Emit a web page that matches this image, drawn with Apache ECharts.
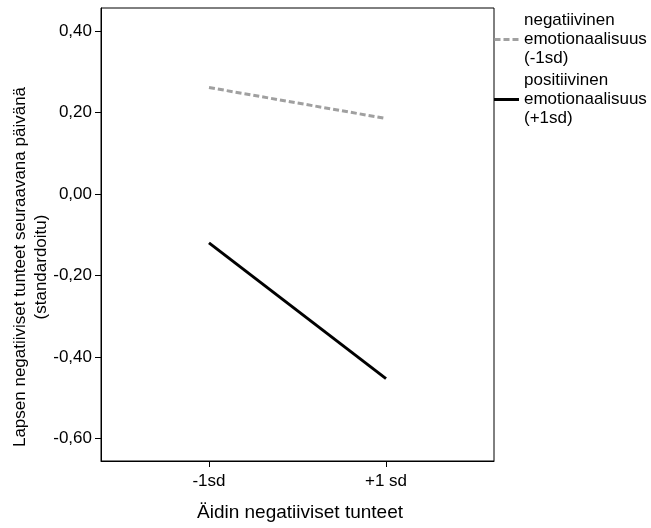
<!DOCTYPE html>
<html>
<head>
<meta charset="utf-8">
<script src="https://cdn.jsdelivr.net/npm/echarts@6/dist/echarts.min.js"></script>
<style>html,body{margin:0;padding:0;background:#fff}#c{width:651px;height:528px}</style>
</head>
<body>
<div id="c"></div>
<script>
const xPositions = [-1, 1];
const xTickLabels = ['-1sd', '+1 sd'];
const yTicks = [-0.6, -0.4, -0.2, 0.0, 0.2, 0.4];
const negName = 'negatiivinen\nemotionaalisuus\n(-1sd)';
const posName = 'positiivinen\nemotionaalisuus\n(+1sd)';
const negValues = [0.261, 0.185];
const posValues = [-0.12, -0.453];
const xTitle = 'Äidin negatiiviset tunteet';
const yTitle = 'Lapsen negatiiviset tunteet seuraavana päivänä\n(standardoitu)';

const FONT = 'Liberation Sans, Arial, sans-serif';
const chart = echarts.init(document.getElementById('c'), null, {renderer: 'canvas'});
const pair = (xs, ys) => xs.map((x, i) => [x, ys[i]]);

chart.setOption({
  animation: false,
  backgroundColor: '#fff',
  textStyle: {fontFamily: FONT},
  grid: {left: 101, top: 8, right: 157, bottom: 67, show: true, borderColor: '#000', borderWidth: 1, backgroundColor: 'transparent'},
  xAxis: {
    type: 'value', min: -2.22, max: 2.22,
    axisLine: {show: true, onZero: false, lineStyle: {color: '#000', width: 1}},
    axisTick: {show: true, length: 6, lineStyle: {color: '#000'}, customValues: xPositions},
    axisLabel: {color: '#000', fontSize: 17, fontFamily: FONT, margin: 12, customValues: xPositions,
      formatter: v => xTickLabels[xPositions.indexOf(v)]},
    splitLine: {show: false}
  },
  yAxis: {
    type: 'value', min: -0.655, max: 0.456,
    axisLine: {show: true, onZero: false, lineStyle: {color: '#000', width: 1}},
    axisTick: {show: true, length: 6, lineStyle: {color: '#000'}, customValues: yTicks},
    axisLabel: {color: '#000', fontSize: 17, fontFamily: FONT, margin: 9, customValues: yTicks,
      formatter: v => v.toFixed(2).replace('.', ',')},
    splitLine: {show: false}
  },
  legend: {
    orient: 'vertical', left: 494, top: 11, itemWidth: 25, itemHeight: 3, itemGap: 3, padding: 0,
    textStyle: {color: '#000', fontSize: 17, lineHeight: 19, fontFamily: FONT},
    data: [
      {name: negName, icon: 'path://M0,0h6v3h-6zM9,0h6v3h-6zM18,0h6v3h-6z', itemStyle: {color: '#a0a0a0'}},
      {name: posName, icon: 'path://M0,0h25v3h-25z', itemStyle: {color: '#000'}}
    ]
  },
  graphic: [
    {type: 'text', x: 31, y: 267, rotation: Math.PI / 2,
     style: {text: yTitle, fontSize: 17, lineHeight: 21, fontFamily: FONT, fill: '#000', textAlign: 'center', textVerticalAlign: 'middle', align: 'center', verticalAlign: 'middle'}},
    {type: 'text', x: 300, y: 513,
     style: {text: xTitle, fontSize: 19, fontFamily: FONT, fill: '#000', textAlign: 'center', textVerticalAlign: 'middle', align: 'center', verticalAlign: 'middle'}}
  ],
  series: [
    {name: negName, type: 'line', data: pair(xPositions, negValues), symbol: 'none',
     lineStyle: {color: '#a0a0a0', width: 3, type: [6, 3]}, itemStyle: {color: '#a0a0a0'}},
    {name: posName, type: 'line', data: pair(xPositions, posValues), symbol: 'none',
     lineStyle: {color: '#000', width: 3}, itemStyle: {color: '#000'}}
  ]
});
</script>
</body>
</html>
